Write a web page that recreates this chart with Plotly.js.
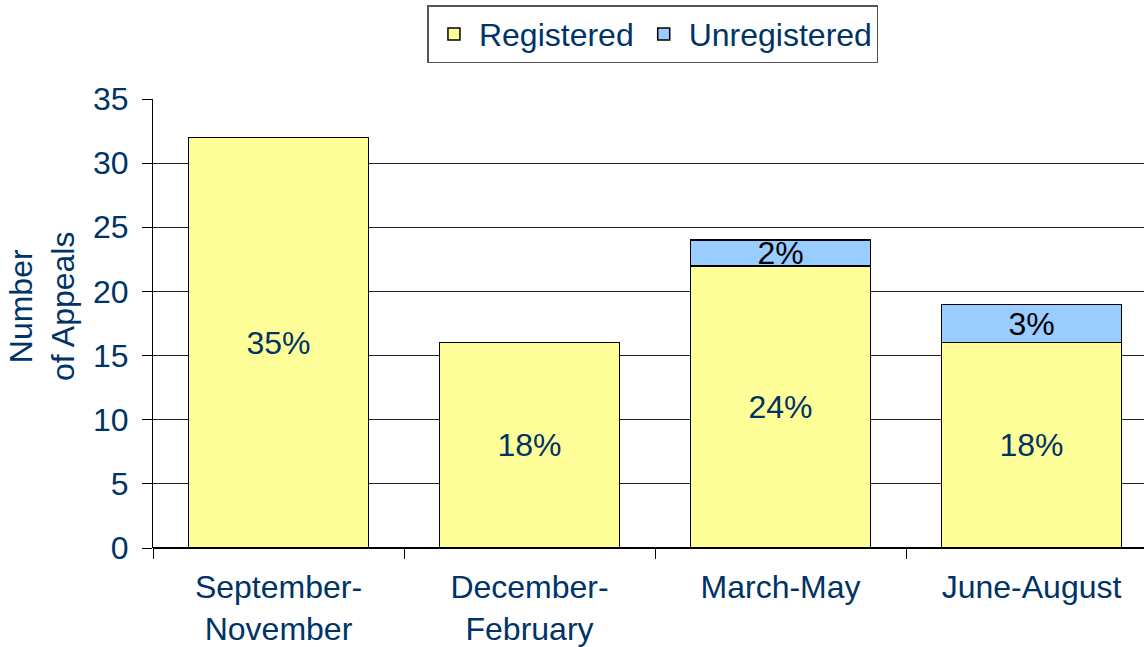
<!DOCTYPE html>
<html>
<head>
<meta charset="utf-8">
<script src="https://cdn.plot.ly/plotly-3.0.1.min.js"></script>
<style>html,body{margin:0;padding:0;background:#fff;}#chart{width:1144px;height:647px;}</style>
</head>
<body>
<div id="chart"></div>
<script>
var categories = ['September-<br>November', 'December-<br>February', 'March-May', 'June-August'];
var registered = [32, 16, 22, 16];
var unregistered = [0, 0, 2, 3];
var registeredPct = ['35%', '18%', '24%', '18%'];
var unregisteredPct = ['', '', '2%', '3%'];
var yTitle = 'Number<br>of Appeals';

var navy = '#003366';
var font = 'Arial, "Liberation Sans", sans-serif';

var traces = [
  {
    type: 'bar', name: 'Registered', x: categories, y: registered,
    text: registeredPct, textposition: 'inside', insidetextanchor: 'middle',
    textangle: 0, constraintext: 'none',
    textfont: {family: font, size: 32, color: navy},
    marker: {color: '#FFFF99', line: {color: '#000000', width: 1.5}},
    width: 0.717, hoverinfo: 'none'
  },
  {
    type: 'bar', name: 'Unregistered', x: categories, y: unregistered,
    text: unregisteredPct, textposition: 'inside', insidetextanchor: 'middle',
    textangle: 0, constraintext: 'none',
    textfont: {family: font, size: 32, color: '#000000'},
    marker: {color: '#99CCFF', line: {color: '#000000', width: 1.5}},
    width: 0.717, hoverinfo: 'none'
  }
];

var layout = {
  width: 1144, height: 647,
  margin: {l: 153, r: 0, t: 99, b: 99},
  paper_bgcolor: '#ffffff', plot_bgcolor: '#ffffff',
  barmode: 'stack',
  showlegend: true,
  legend: {
    orientation: 'h', x: 0.5045, xanchor: 'center', y: 1.209, yanchor: 'top',
    bordercolor: '#555555', borderwidth: 1.5, bgcolor: '#ffffff',
    font: {family: font, size: 32, color: navy},
    traceorder: 'normal', itemwidth: 40
  },
  xaxis: {
    type: 'category',
    range: [-0.5, 3.448],
    tickson: 'boundaries',
    ticks: 'outside', ticklen: 10, tickcolor: '#000000', tickwidth: 1,
    showline: false, showgrid: false, zeroline: false,
    tickfont: {family: font, size: 32, color: navy},
    ticklabelstandoff: 17
  },
  yaxis: {
    range: [0, 35], dtick: 5, tick0: 0,
    ticks: 'outside', ticklen: 10, tickcolor: '#000000', tickwidth: 1,
    showline: true, linecolor: '#000000', linewidth: 1,
    showgrid: true, gridcolor: '#222222', gridwidth: 1,
    zeroline: true, zerolinecolor: '#000000', zerolinewidth: 1.5,
    tickfont: {family: font, size: 32, color: navy},
    ticklabelstandoff: 7
  },
  annotations: [{
    text: yTitle, xref: 'paper', yref: 'paper',
    x: (42 - 153) / 991, y: (548 - 307) / 449,
    xanchor: 'center', yanchor: 'middle', textangle: -90, showarrow: false,
    font: {family: font, size: 32, color: navy}
  }]
};

Plotly.newPlot('chart', traces, layout, {displayModeBar: false, staticPlot: true});
</script>
</body>
</html>
